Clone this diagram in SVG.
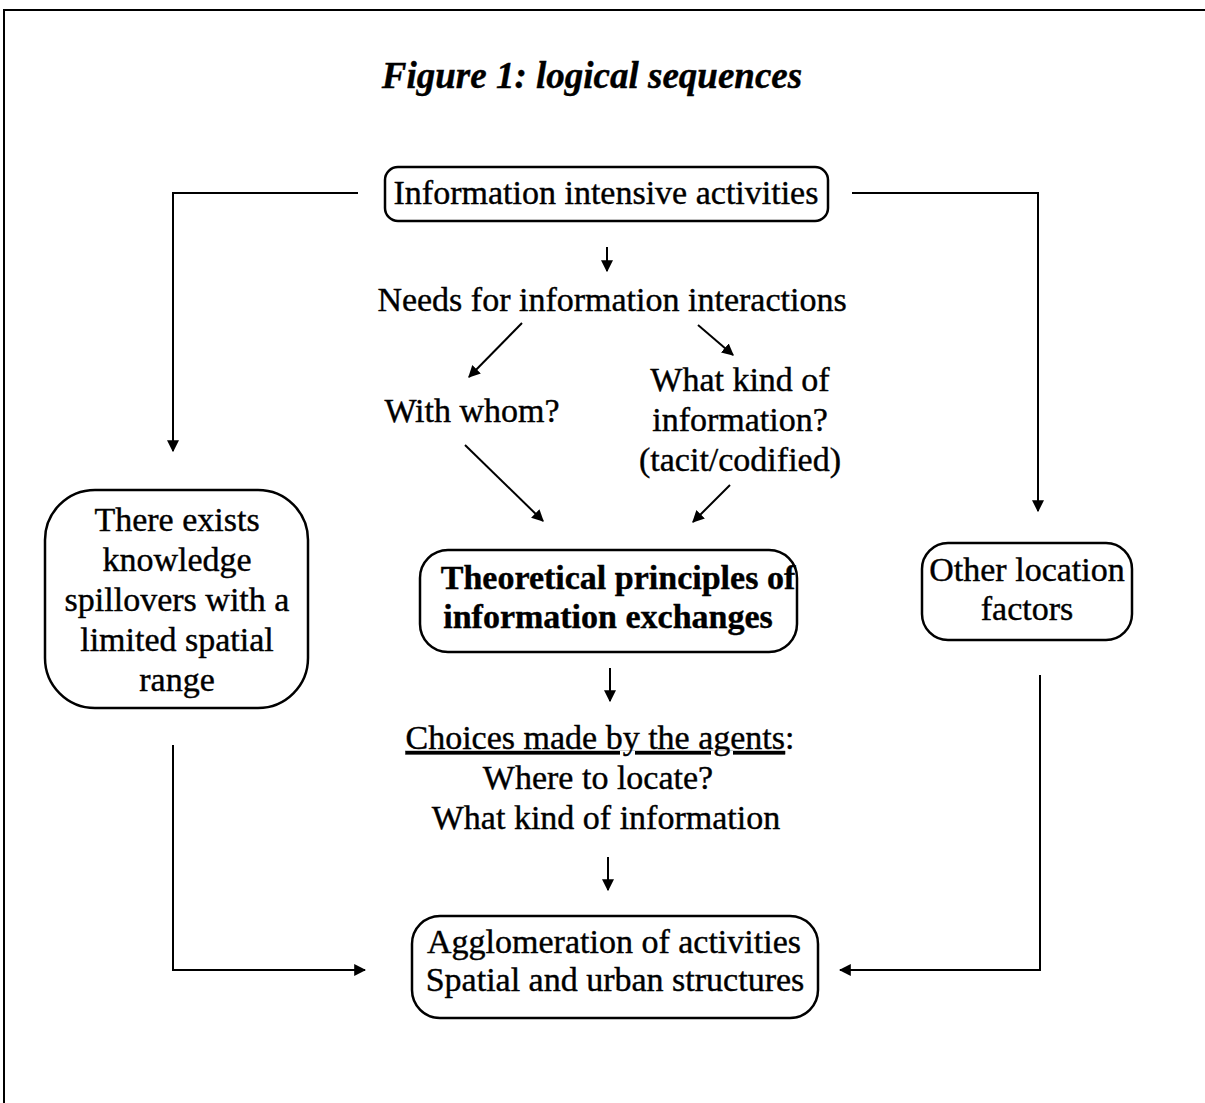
<svg xmlns="http://www.w3.org/2000/svg" width="1205" height="1103" viewBox="0 0 1205 1103">
<style>
.t{font-family:"Liberation Serif","Times New Roman",serif;font-size:34px;fill:#000;stroke:#000;stroke-width:0.4;text-anchor:middle}
.b{font-weight:bold}
.box{fill:none;stroke:#000;stroke-width:2.5}
.ln{fill:none;stroke:#000;stroke-width:2}
</style>
<defs>
<marker id="ah" viewBox="0 0 10 10" refX="9" refY="5" markerWidth="6" markerHeight="6" orient="auto" markerUnits="strokeWidth">
<path d="M0,0 L10,5 L0,10 z" fill="#000"/>
</marker>
</defs>
<rect width="1205" height="1103" fill="#fff"/>
<path d="M4,1103 L4,10 L1205,10" fill="none" stroke="#000" stroke-width="2"/>
<text x="592" y="88" class="t b" style="font-style:italic;font-size:37px">Figure 1: logical sequences</text>

<g id="connectors">
<path class="ln" d="M358,193 L173,193 L173,451" marker-end="url(#ah)"/>
<path class="ln" d="M852,193 L1038,193 L1038,511" marker-end="url(#ah)"/>
<path class="ln" d="M607,247 L607,271" marker-end="url(#ah)"/>
<path class="ln" d="M522,323 L469,377" marker-end="url(#ah)"/>
<path class="ln" d="M698,325 L733,355" marker-end="url(#ah)"/>
<path class="ln" d="M465,445 L543,521" marker-end="url(#ah)"/>
<path class="ln" d="M730,485 L693,522" marker-end="url(#ah)"/>
<path class="ln" d="M610,668 L610,701" marker-end="url(#ah)"/>
<path class="ln" d="M608,857 L608,890" marker-end="url(#ah)"/>
<path class="ln" d="M173,745 L173,970 L365,970" marker-end="url(#ah)"/>
<path class="ln" d="M1040,675 L1040,970 L840,970" marker-end="url(#ah)"/>
</g>

<g id="n-info-intensive">
<rect class="box" x="385" y="167" width="443" height="54" rx="13"/>
<text class="t" x="606" y="204">Information intensive activities</text>
</g>
<g id="n-needs">
<text class="t" x="612" y="311">Needs for information interactions</text>
</g>
<g id="n-with-whom">
<text class="t" x="472" y="422">With whom?</text>
</g>
<g id="n-what-kind">
<text class="t" x="740" y="391">What kind of</text>
<text class="t" x="740" y="431">information?</text>
<text class="t" x="740" y="471">(tacit/codified)</text>
</g>
<g id="n-spillovers">
<rect class="box" x="45" y="490" width="263" height="218" rx="50"/>
<text class="t" x="177" y="531">There exists</text>
<text class="t" x="177" y="571">knowledge</text>
<text class="t" x="177" y="611">spillovers with a</text>
<text class="t" x="177" y="651">limited spatial</text>
<text class="t" x="177" y="691">range</text>
</g>
<g id="n-theoretical">
<rect class="box" x="420" y="550" width="377" height="102" rx="28"/>
<text class="t b" x="618" y="589">Theoretical principles of</text>
<text class="t b" x="608" y="628">information exchanges</text>
</g>
<g id="n-other">
<rect class="box" x="922" y="543" width="210" height="97" rx="26"/>
<text class="t" x="1027" y="581">Other location</text>
<text class="t" x="1027" y="620">factors</text>
</g>
<g id="n-choices">
<text class="t" x="600" y="749"><tspan text-decoration="underline">Choices made by the agents</tspan>:</text>
<text class="t" x="598" y="789">Where to locate?</text>
<text class="t" x="606" y="829">What kind of information</text>
</g>
<g id="n-agglomeration">
<rect class="box" x="412" y="916" width="406" height="102" rx="28"/>
<text class="t" x="614" y="953">Agglomeration of activities</text>
<text class="t" x="615" y="991">Spatial and urban structures</text>
</g>
</svg>
